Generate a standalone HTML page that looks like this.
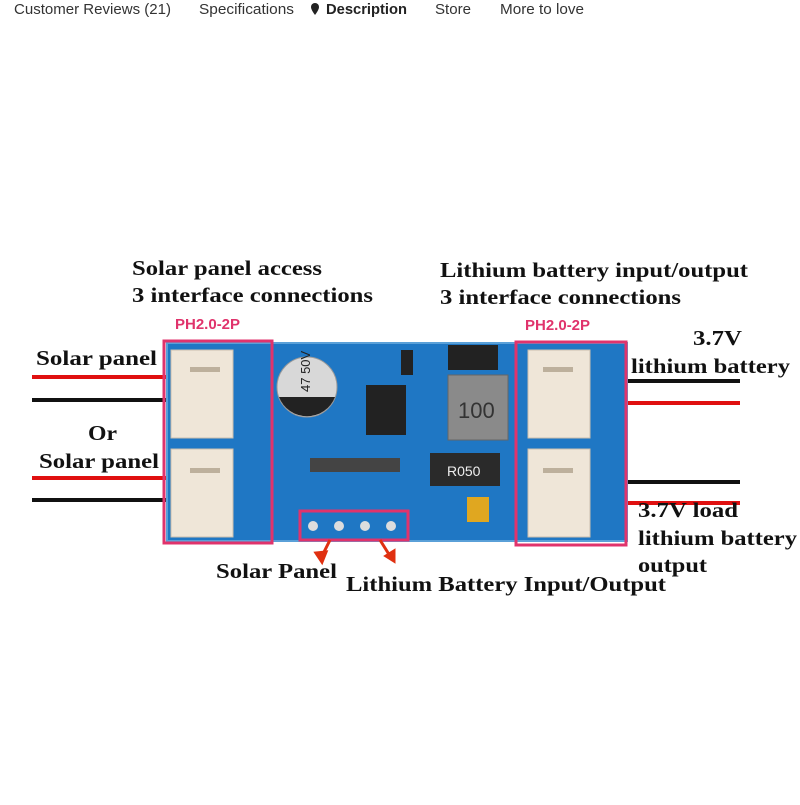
<!DOCTYPE html>
<html><head><style>
body{margin:0;width:800px;height:800px;background:#fff;overflow:hidden;font-family:"Liberation Sans",sans-serif}
</style></head><body>
<svg width="800" height="800" viewBox="0 0 800 800" xmlns="http://www.w3.org/2000/svg">
<g font-family="Liberation Sans, sans-serif" font-size="15" fill="#333" lengthAdjust="spacingAndGlyphs">
<text x="14" y="14" textLength="157" lengthAdjust="spacingAndGlyphs">Customer Reviews (21)</text>
<text x="199" y="14" textLength="95" lengthAdjust="spacingAndGlyphs">Specifications</text>
<text x="326" y="14" font-weight="bold" fill="#222" textLength="81" lengthAdjust="spacingAndGlyphs">Description</text>
<path d="M315 3 a4 4 0 0 1 4 4 c0 3 -4 8 -4 8 c0 0 -4 -5 -4 -8 a4 4 0 0 1 4 -4z" fill="#222"/>
<text x="435" y="14" textLength="36" lengthAdjust="spacingAndGlyphs">Store</text>
<text x="500" y="14" textLength="84" lengthAdjust="spacingAndGlyphs">More to love</text>
</g>
<!-- wires -->
<g stroke-width="4">
<line x1="32" y1="377" x2="170" y2="377" stroke="#e01010"/>
<line x1="32" y1="400" x2="170" y2="400" stroke="#111"/>
<line x1="32" y1="478" x2="170" y2="478" stroke="#e01010"/>
<line x1="32" y1="500" x2="170" y2="500" stroke="#111"/>
<line x1="620" y1="381" x2="740" y2="381" stroke="#111"/>
<line x1="620" y1="403" x2="740" y2="403" stroke="#e01010"/>
<line x1="620" y1="482" x2="740" y2="482" stroke="#111"/>
<line x1="620" y1="503" x2="740" y2="503" stroke="#e01010"/>
</g>
<!-- board -->
<rect x="167" y="343" width="460" height="198" fill="#1f77c4"/>
<rect x="167" y="343" width="460" height="198" fill="none" stroke="#5aa0d8" stroke-width="2"/>
<g fill="#efe6d8" stroke="#cbbfae">
<rect x="171" y="350" width="62" height="88"/>
<rect x="171" y="449" width="62" height="88"/>
<rect x="528" y="350" width="62" height="88"/>
<rect x="528" y="449" width="62" height="88"/>
</g>
<g fill="#bdb09c">
<rect x="190" y="367" width="30" height="5"/><rect x="190" y="468" width="30" height="5"/>
<rect x="543" y="367" width="30" height="5"/><rect x="543" y="468" width="30" height="5"/>
</g>
<circle cx="307" cy="387" r="30" fill="#d8d8d8" stroke="#999"/>
<path d="M279 397 A30 30 0 0 0 335 397 Z" fill="#222"/>
<text x="298" y="400" font-size="13" font-family="Liberation Sans,sans-serif" transform="rotate(-90 300 390)" fill="#222">47 50V</text>
<rect x="366" y="385" width="40" height="50" fill="#222"/>
<rect x="401" y="350" width="12" height="25" fill="#222"/>
<rect x="448" y="345" width="50" height="25" fill="#222"/>
<rect x="448" y="375" width="60" height="65" fill="#8a8a8a" stroke="#666"/>
<text x="458" y="418" font-size="22" fill="#333" font-family="Liberation Sans,sans-serif">100</text>
<rect x="430" y="453" width="70" height="33" fill="#2a2a2a"/>
<text x="447" y="476" font-size="14" fill="#eee" font-family="Liberation Sans,sans-serif">R050</text>
<rect x="467" y="497" width="22" height="25" fill="#e0a720"/>
<g fill="#ddd"><circle cx="313" cy="526" r="5"/><circle cx="339" cy="526" r="5"/><circle cx="365" cy="526" r="5"/><circle cx="391" cy="526" r="5"/></g>
<g fill="#444"><rect x="310" y="458" width="90" height="14"/></g>
<g fill="none" stroke="#e0336c" stroke-width="3">
<rect x="164" y="341" width="108" height="202"/>
<rect x="516" y="342" width="110" height="203"/>
<rect x="300" y="511" width="108" height="29"/>
</g>
<g fill="#e0336c" font-family="Liberation Sans,sans-serif" font-weight="bold" font-size="15">
<text x="175" y="329">PH2.0-2P</text>
<text x="525" y="330">PH2.0-2P</text>
</g>
<g stroke="#e03010" stroke-width="3" fill="#e03010">
<line x1="330" y1="540" x2="322" y2="556"/><polygon points="316,553 322,562 326,552"/>
<line x1="380" y1="540" x2="390" y2="556"/><polygon points="386,556 394,561 394,551"/>
</g>
<g font-family="Liberation Serif,serif" font-weight="bold" font-size="21" fill="#111">
<text x="132" y="275" textLength="190" lengthAdjust="spacingAndGlyphs">Solar panel access</text>
<text x="132" y="302" textLength="241" lengthAdjust="spacingAndGlyphs">3 interface connections</text>
<text x="440" y="277" textLength="308" lengthAdjust="spacingAndGlyphs">Lithium battery input/output</text>
<text x="440" y="304" textLength="241" lengthAdjust="spacingAndGlyphs">3 interface connections</text>
<text x="36" y="365" textLength="121" lengthAdjust="spacingAndGlyphs">Solar panel</text>
<text x="88" y="440" textLength="29" lengthAdjust="spacingAndGlyphs">Or</text>
<text x="39" y="468" textLength="120" lengthAdjust="spacingAndGlyphs">Solar panel</text>
<text x="693" y="345" textLength="49" lengthAdjust="spacingAndGlyphs">3.7V</text>
<text x="631" y="373" textLength="159" lengthAdjust="spacingAndGlyphs">lithium battery</text>
<text x="638" y="517" textLength="100" lengthAdjust="spacingAndGlyphs">3.7V load</text>
<text x="638" y="545" textLength="159" lengthAdjust="spacingAndGlyphs">lithium battery</text>
<text x="638" y="572" textLength="69" lengthAdjust="spacingAndGlyphs">output</text>
<text x="216" y="578" textLength="121" lengthAdjust="spacingAndGlyphs">Solar Panel</text>
<text x="346" y="591" textLength="320" lengthAdjust="spacingAndGlyphs">Lithium Battery Input/Output</text>
</g>
</svg>
</body></html>
